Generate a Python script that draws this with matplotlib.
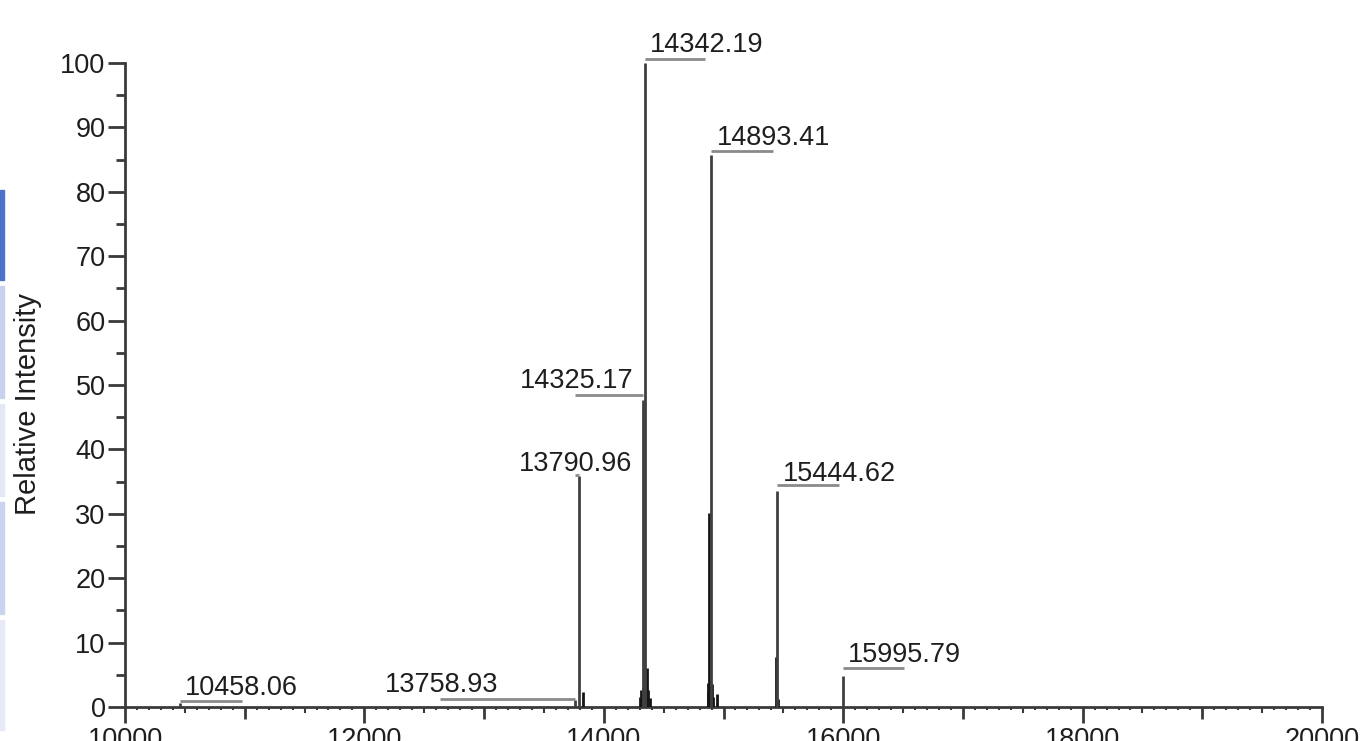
import matplotlib
matplotlib.use("Agg")
import matplotlib.pyplot as plt
from matplotlib.patches import Rectangle
from matplotlib.ticker import MultipleLocator, FuncFormatter
from matplotlib.transforms import ScaledTranslation

plt.rcParams["font.family"] = ["Liberation Sans", "DejaVu Sans"]

# ---- spectrum data (deconvoluted mass, relative intensity) ----
labeled_mass = [10458.06, 13758.93, 13790.96, 14325.17, 14342.19, 14893.41, 15444.62, 15995.79]
labeled_int = [0.6, 1.1, 35.8, 47.6, 100.0, 85.7, 33.6, 4.8]

minor_mass = [13826, 14300, 14312, 14330, 14356, 14362, 14372, 14384,
              14868, 14874, 14880, 14886, 14900, 14912, 14946, 15436, 15452]
minor_int = [2.4, 1.6, 2.6, 3.0, 2.4, 6.0, 2.6, 1.4,
             2.4, 3.8, 30.2, 3.4, 3.6, 1.6, 2.0, 7.8, 1.2]

x_ticks = [10000, 12000, 14000, 16000, 18000, 20000]
y_ticks = [0, 10, 20, 30, 40, 50, 60, 70, 80, 90, 100]

# ---- label layout: side, leader length, leader rise, text dx, text dy (pixels) ----
label_layout = {
    10458.06: ("right", 62, 2, 5, 8),
    13758.93: ("left", 135, 1, -190, 8),
    13790.96: ("left", 4, 1, -60, 5),
    14325.17: ("left", 68, 5, -123, 12),
    14342.19: ("right", 60, 4, 5, 11),
    14893.41: ("right", 62, 4, 6, 10),
    15444.62: ("right", 62, 6, 6, 10),
    15995.79: ("right", 61, 8, 5, 14),
}

W, H, DPI = 1363, 741, 100
fig = plt.figure(figsize=(W / DPI, H / DPI), dpi=DPI)
ax = fig.add_axes([125 / W, (H - 707) / H, (1322 - 125) / W, (707 - 63) / H])

spine_col = "#3a3a3a"
peak_col = "#404040"
lead_col = "#8a8a8a"
text_col = "#1e1e1e"
fs = 19.5

ax.vlines(minor_mass, 0, minor_int, color="#151515", lw=2.0, zorder=3)
ax.vlines(labeled_mass, 0, labeled_int, color=peak_col, lw=2.0, zorder=3)

ax.set_xlim(10000, 20000)
ax.set_ylim(0, 100)

for s in ("top", "right"):
    ax.spines[s].set_visible(False)
for s in ("left", "bottom"):
    ax.spines[s].set_color(spine_col)
    ax.spines[s].set_linewidth(2.0)

ax.xaxis.set_major_locator(MultipleLocator(1000))
ax.xaxis.set_minor_locator(MultipleLocator(100))
ax.xaxis.set_major_formatter(FuncFormatter(lambda v, p: f"{int(v)}" if int(v) in x_ticks else ""))
ax.set_yticks(y_ticks)
ax.yaxis.set_minor_locator(MultipleLocator(5))

ax.tick_params(axis="both", which="both", direction="out", color=spine_col,
               labelcolor=text_col, labelsize=fs)
ax.tick_params(axis="x", which="major", length=11.5, width=2.0, pad=3)
ax.tick_params(axis="x", which="minor", length=2.2, width=1.5)
ax.tick_params(axis="y", which="major", length=12, width=2.0, pad=2)
ax.tick_params(axis="y", which="minor", length=6.5, width=2.0)

# shorter marks at odd thousands, slightly longer marks at the half-thousands
for loc, t in zip(ax.xaxis.get_majorticklocs(), ax.xaxis.get_major_ticks()):
    if int(round(loc)) % 2000 != 0:
        t.tick1line.set_markersize(8.5)
for loc, t in zip(ax.xaxis.get_minorticklocs(), ax.xaxis.get_minor_ticks()):
    if int(round(loc)) % 500 == 0:
        t.tick1line.set_markersize(4.0)

ax.set_ylabel("Relative Intensity", fontsize=21, color=text_col)
ax.yaxis.set_label_coords(-83 / (1322 - 125), 0.47)

# ---- peak labels with leader lines ----
px = 72.0 / DPI
x_per_px = 10000 / (1322 - 125)
for m, v in zip(labeled_mass, labeled_int):
    side, llen, rise, tdx, tdy = label_layout[m]
    xs = [0, llen] if side == "right" else [-llen, 0]
    line_tr = ax.transData + ScaledTranslation(0, rise / DPI, fig.dpi_scale_trans)
    ax.plot([m + xs[0] * x_per_px, m + xs[1] * x_per_px], [v, v],
            color=lead_col, lw=2.0, transform=line_tr,
            clip_on=False, zorder=4, solid_capstyle="butt")
    ax.annotate(f"{m:.2f}", xy=(m, v), xytext=(tdx * px, tdy * px),
                textcoords="offset points", ha="left", va="baseline",
                fontsize=fs, color=text_col, annotation_clip=False)

# ---- side strip on the left edge ----
strip = [(190, 280, "#4a73c9"), (286, 398, "#c8d2ee"), (404, 496, "#e3e8f6"),
         (502, 614, "#cbd4ef"), (620, 730, "#e6eaf7")]
for y0, y1, c in strip:
    fig.patches.append(Rectangle((0, (H - y1) / H), 4 / W, (y1 - y0) / H,
                                 transform=fig.transFigure, color=c, zorder=0))

fig.savefig("out.png", dpi=DPI)
